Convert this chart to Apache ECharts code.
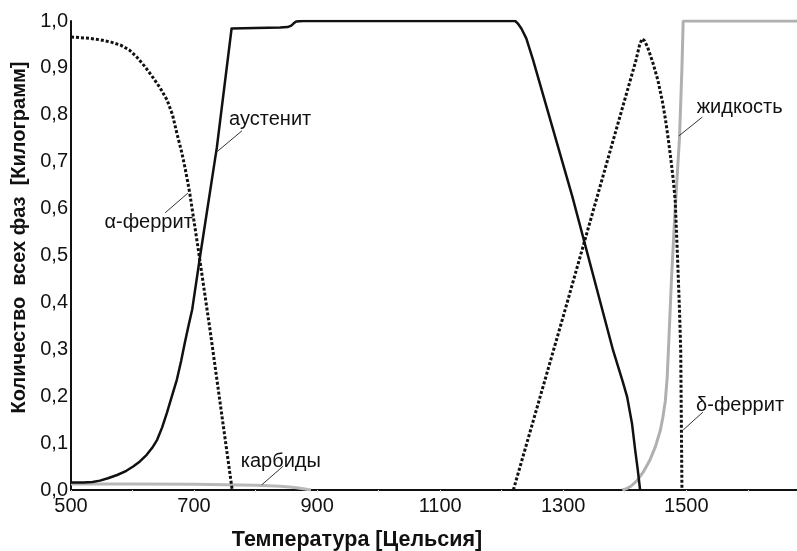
<!DOCTYPE html>
<html><head><meta charset="utf-8">
<script src="https://cdn.jsdelivr.net/npm/echarts@6/dist/echarts.min.js"></script>
<style>html,body{margin:0;padding:0;background:#fff}#c{width:797px;height:551px}</style>
</head><body><div id="c"></div>
<script>
// ---- data ----
const xTicks = [500, 700, 900, 1100, 1300, 1500];
const yTicks = [0, 0.1, 0.2, 0.3, 0.4, 0.5, 0.6, 0.7, 0.8, 0.9, 1.0];

const alphaT = [500, 530, 547, 565, 580, 595, 607, 620, 633, 645, 656, 665, 672, 680, 685, 690, 693, 707, 726, 762];
const alphaV = [0.966, 0.963, 0.96, 0.955, 0.949, 0.938, 0.923, 0.903, 0.88, 0.857, 0.832, 0.8, 0.761, 0.72, 0.689, 0.655, 0.633, 0.512, 0.341, 0];

const austT = [500, 520, 535, 547, 560, 575, 590, 601, 612, 623, 632, 640, 648, 656, 664, 672, 679, 685, 691, 697, 710, 737, 761, 800, 840, 852, 858, 862, 866, 877, 1000, 1100, 1222, 1226, 1232, 1240, 1251, 1315, 1381, 1397, 1404, 1412, 1417, 1421, 1425];
const austV = [0.016, 0.016, 0.017, 0.02, 0.025, 0.032, 0.041, 0.05, 0.061, 0.075, 0.09, 0.107, 0.133, 0.165, 0.2, 0.235, 0.275, 0.314, 0.35, 0.385, 0.5, 0.73, 0.984, 0.985, 0.986, 0.987, 0.99, 0.995, 0.999, 1.0, 1.0, 1.0, 1.0, 0.995, 0.984, 0.963, 0.917, 0.625, 0.298, 0.23, 0.198, 0.14, 0.085, 0.045, 0];

const carbT = [500, 600, 700, 800, 840, 860, 875, 890];
const carbV = [0.013, 0.013, 0.012, 0.01, 0.008, 0.006, 0.003, 0];

const deltaT = [1219, 1300, 1380, 1418, 1424, 1428, 1432, 1437, 1446, 1454, 1461, 1466, 1471, 1475, 1479, 1482, 1486, 1489, 1491, 1492, 1493];
const deltaV = [0, 0.37, 0.74, 0.915, 0.948, 0.962, 0.958, 0.945, 0.91, 0.873, 0.83, 0.792, 0.746, 0.705, 0.66, 0.618, 0.49, 0.384, 0.298, 0.15, 0];

const liqT = [1396, 1403, 1410, 1420, 1430, 1441, 1450, 1458, 1462, 1466, 1469, 1471, 1476, 1482, 1489, 1493, 1495, 1680];
const liqV = [0, 0.003, 0.008, 0.02, 0.038, 0.064, 0.093, 0.128, 0.155, 0.19, 0.24, 0.298, 0.45, 0.6, 0.75, 0.9, 1.0, 1.0];

// annotation labels (data coordinates): text anchor, leader start, leader end
const labelNames = ['аустенит', 'α-феррит', 'карбиды', 'жидкость', 'δ-феррит'];
const labelAnchor = [[757, 0.791], [698, 0.571], [776, 0.06], [1517, 0.815], [1516, 0.181]];
const labelAlign = ['left', 'right', 'left', 'left', 'left'];
const leaderFrom = [[778, 0.766], [653, 0.591], [845, 0.051], [1526, 0.795], [1527, 0.166]];
const leaderTo = [[737, 0.721], [690, 0.633], [810, 0.011], [1488, 0.755], [1495, 0.128]];

const zip = (a, b) => a.map((t, i) => [t, b[i]]);
const FONT = 'Liberation Sans, Arial, sans-serif';

const chart = echarts.init(document.getElementById('c'), null, {renderer: 'canvas'});
chart.setOption({
  animation: false,
  backgroundColor: '#fff',
  grid: {left: 71, right: 0, top: 21, bottom: 61, containLabel: false, outerBoundsMode: 'none'},
  xAxis: {
    type: 'value', min: 500, max: 1680, interval: 100,
    name: 'Температура [Цельсия]', nameLocation: 'middle', nameGap: 39,
    nameTextStyle: {fontFamily: FONT, fontWeight: 'bold', fontSize: 21.5, color: '#111', padding: [0, 154, 0, 0]},
    axisLine: {lineStyle: {color: '#111', width: 2}},
    axisTick: {show: true, length: 3, lineStyle: {color: '#e4e4e4'}},
    splitLine: {show: false},
    axisLabel: {
      fontFamily: FONT, fontSize: 20, color: '#111', margin: 6,
      formatter: v => xTicks.includes(v) ? String(v) : ''
    }
  },
  yAxis: {
    type: 'value', min: 0, max: 1, interval: 0.1,
    name: 'Количество  всех фаз  [Килограмм]', nameLocation: 'middle', nameGap: 36,
    nameTextStyle: {fontFamily: FONT, fontWeight: 'bold', fontSize: 20, color: '#111', padding: [0, 0, 0, 36]},
    axisLine: {show: true, lineStyle: {color: '#111', width: 2}},
    axisTick: {show: false},
    splitLine: {show: false},
    axisLabel: {
      fontFamily: FONT, fontSize: 20, color: '#111', margin: 3,
      formatter: v => yTicks.some(t => Math.abs(t - v) < 1e-6) ? v.toFixed(1).replace('.', ',') : ''
    }
  },
  series: [
    {name: 'карбиды', type: 'line', showSymbol: false, smooth: false, data: zip(carbT, carbV),
     lineStyle: {color: '#b8b8b8', width: 3}},
    {name: 'жидкость', type: 'line', showSymbol: false, smooth: false, data: zip(liqT, liqV),
     lineStyle: {color: '#b0b0b0', width: 3}},
    {name: 'α-феррит', type: 'line', showSymbol: false, smooth: false, data: zip(alphaT, alphaV),
     lineStyle: {color: '#111', width: 3, type: [3, 2]}},
    {name: 'δ-феррит', type: 'line', showSymbol: false, smooth: false, data: zip(deltaT, deltaV),
     lineStyle: {color: '#111', width: 3, type: [3, 2]}},
    {name: 'аустенит', type: 'line', showSymbol: false, smooth: false, data: zip(austT, austV),
     lineStyle: {color: '#111', width: 2.5, join: 'round'}}
  ]
});

const px = p => chart.convertToPixel({gridIndex: 0}, p);
const graphics = [];
labelNames.forEach((name, i) => {
  const a = px(labelAnchor[i]);
  const f = px(leaderFrom[i]);
  const t = px(leaderTo[i]);
  graphics.push({type: 'line', shape: {x1: f[0], y1: f[1], x2: t[0], y2: t[1]},
    style: {stroke: '#333', lineWidth: 1}, z: 10});
  graphics.push({type: 'text', x: a[0], y: a[1],
    style: {text: name, font: '20px ' + FONT, fill: '#111', align: labelAlign[i], verticalAlign: 'middle'}, z: 11});
});
chart.setOption({graphic: graphics});
</script>
</body></html>
